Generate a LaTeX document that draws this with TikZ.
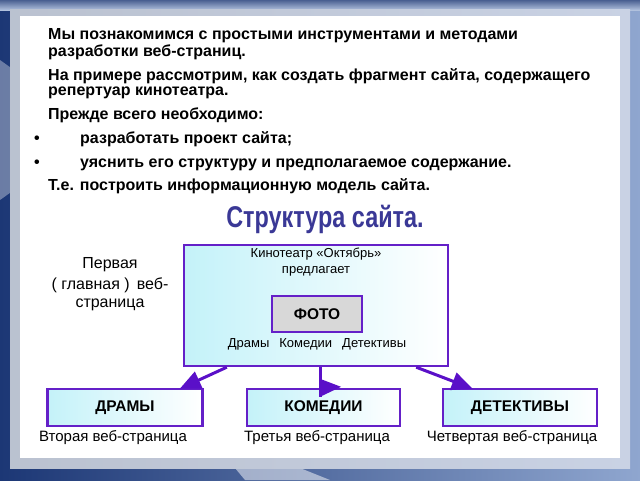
\documentclass[tikz,border=0pt]{standalone}
\usepackage{fontspec}
\setmainfont{Liberation Sans}
\newfontfamily\narrowfont[FakeStretch=0.78]{Liberation Sans}
\usetikzlibrary{arrows.meta, calc}
\definecolor{navy}{HTML}{1C3775}
\definecolor{steel}{HTML}{8FA6CF}
\definecolor{bevel}{HTML}{C9D2E4}
\definecolor{boxedge}{HTML}{6420C8}
\definecolor{arrowc}{HTML}{5A10C8}
\definecolor{titleblue}{HTML}{3A3896}
\definecolor{paleblue}{HTML}{C4F2F9}
\definecolor{photo}{HTML}{D8D8D8}

\tikzset{
    line/.style={text=black, inner sep=0pt, align=left},
    pagebox/.style={draw=boxedge, line width=2.4pt, left color=paleblue, right color=white,
        minimum height=37pt, inner sep=0pt, font=\bfseries\fontsize{15.5}{17}\selectfont},
    caption/.style={inner sep=0pt, font=\fontsize{15}{17}\selectfont},
    link/.style={arrowc, line width=3pt, -{Triangle[length=21pt,width=18pt]}}
}

\begin{document}
\begin{tikzpicture}[x=1pt,y=-1pt]
    % Slide frame
    \useasboundingbox (0,0) rectangle (640,480);
    \shade[left color=navy, right color=steel] (0,0) rectangle (640,480);
    \shade[top color=navy!80, bottom color=steel!70] (0,0) rectangle (640,10);
    \fill[white, opacity=0.35] (0,60) -- (14,70) -- (14,190) -- (0,200) -- cycle;
    \fill[white, opacity=0.5] (235,468) -- (300,468) -- (330,480) -- (245,480) -- cycle;
    \shade[left color=bevel!80!gray, right color=bevel] (10,9) rectangle (630,468);
    \fill[white] (20,16) rectangle (620,458);

    % Text at the top
    \begin{scope}[font=\bfseries\fontsize{16}{15}\selectfont]
        \node[line, anchor=base west] (t1) at (48,56) {Мы познакомимся с простыми инструментами и методами\\разработки веб-страниц.};
        \node[line, anchor=base west] (t3) at (48,95) {На примере рассмотрим, как создать фрагмент сайта, содержащего\\репертуар кинотеатра.};
        \node[line, anchor=base west] (t5) at (48,119) {Прежде всего необходимо:};
        \node[line, anchor=base west] (b1) at (34,143) {•};
        \node[line, anchor=base west] (t6) at (80,143) {разработать проект сайта;};
        \node[line, anchor=base west] (b2) at (34,167) {•};
        \node[line, anchor=base west] (t7) at (80,167) {уяснить его структуру и предполагаемое содержание.};
        \node[line, anchor=base west] (t8) at (48,190) {Т.е. построить информационную модель сайта.};
    \end{scope}

    % Title
    \node[inner sep=0pt, text=titleblue, font=\narrowfont\bfseries\fontsize{30}{32}\selectfont] (title) at (325,219) {Структура сайта.};

    % First page
    \node[draw=boxedge, line width=2.4pt, left color=paleblue, right color=white,
        minimum width=264pt, minimum height=121pt, inner sep=0pt] (site) at (316,305.5) {};
    \node[inner sep=0pt, font=\fontsize{13}{15}\selectfont, align=center] (cinema) at (316,262)
        {Кинотеатр «Октябрь»\\[1pt]предлагает};
    \node[draw=boxedge, line width=2pt, fill=photo, minimum width=90pt, minimum height=36pt,
        font=\bfseries\fontsize{15.5}{17}\selectfont] (foto) at (317,314) {ФОТО};
    \node[inner sep=0pt, font=\fontsize{13}{15}\selectfont] (genres) at (317,344)
        {Драмы\hspace{10pt}Комедии\hspace{10pt}Детективы};
    \node[caption, font=\fontsize{16}{18}\selectfont, align=center] (first) at (110,284)
        {Первая\\[3pt]( главная )\hspace{7pt}веб-\\страница};

    % Other pages
    \node[pagebox, minimum width=155pt] (dramy) at (125,407.5) {\raisebox{-1.5pt}{ДРАМЫ}};
    \node[pagebox, minimum width=153pt] (komedii) at (323.5,407.5) {\raisebox{-1.5pt}{КОМЕДИИ}};
    \node[pagebox, minimum width=154pt] (detektivy) at (520,407.5) {\raisebox{-1.5pt}{ДЕТЕКТИВЫ}};
    \node[caption] (second) at (113,438) {Вторая веб-страница};
    \node[caption] (third) at (317,438) {Третья веб-страница};
    \node[caption] (fourth) at (512,438) {Четвертая веб-страница};

    % Arrows
    \draw[link] ([xshift=44pt]site.south west) -- ([xshift=-24pt,yshift=-1pt]dramy.north east);
    \draw[arrowc, line width=3pt] ([xshift=4pt]site.south) -- ([xshift=-3.5pt,yshift=-9pt]komedii.north) coordinate (mid);
    \fill[arrowc] ($(mid)+(0,-18)$) -- (mid) -- ($(mid)+(21,-10)$) -- cycle;
    \draw[link] ([xshift=-33pt]site.south east) -- ([xshift=31pt,yshift=-1pt]detektivy.north west);
\end{tikzpicture}
\end{document}
